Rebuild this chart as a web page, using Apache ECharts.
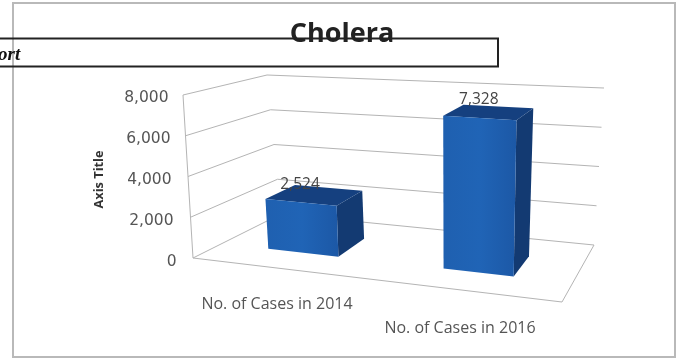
<!DOCTYPE html>
<html>
<head>
<meta charset="utf-8">
<style>html,body{margin:0;padding:0;background:#fff}#chart{width:683px;height:360px}</style>
<script src="https://cdn.jsdelivr.net/npm/echarts@6/dist/echarts.min.js"></script>
</head>
<body>
<div id="chart"></div>
<script>
const categories = ['No. of Cases in 2014', 'No. of Cases in 2016'];
const cases = [2524, 7328];
const yTicks = [0, 2000, 4000, 6000, 8000];
const chartTitle = 'Cholera';
const yAxisTitle = 'Axis Title';
const captionTail = 'ort';

// Corners of the perspective box: floor and ceiling at front/back, left/right.
const box = {
  floor: { fl: [193, 258], fr: [562, 302], bl: [281, 214], br: [594, 245] },
  top:   { fl: [183, 95],  fr: [566, 120], bl: [267, 75],  br: [604, 88] }
};
const barDepth = [0.33, 0.7];
const barHalfWidth = 0.1;
const floorShift = -0.018;

function mix(a, b, t) { return [a[0] + (b[0] - a[0]) * t, a[1] + (b[1] - a[1]) * t]; }
// u: across the floor, d: front to back, t: share of the value range
function project(u, d, t) {
  const q = s => mix(mix(s.fl, s.fr, u), mix(s.bl, s.br, u), d);
  return mix(q(box.floor), q(box.top), t);
}
function shareOf(api, cs, v) {
  return (cs.y + cs.height - api.coord([0, v])[1]) / cs.height;
}
const gridStroke = { stroke: '#b4b4b4', lineWidth: 1, fill: null };

function renderWalls(params, api) {
  const cs = params.coordSys;
  const t = shareOf(api, cs, api.value(1));
  const lines = [
    [project(0, 0, t), project(0, 1, t), project(1, 1, t)]
  ];
  if (params.dataIndex === 0) {
    lines.push([project(0, 0, 0), project(1, 0, 0), project(1, 1, 0)]);
    lines.push([project(0, 0, 0), project(0, 0, 1)]);
  }
  return {
    type: 'group',
    children: lines.map(points => ({ type: 'polyline', shape: { points }, style: gridStroke }))
  };
}

function renderBar(params, api) {
  const cs = params.coordSys;
  const i = api.value(0);
  const value = api.value(1);
  const c = (api.coord([i, value])[0] - cs.x) / cs.width + floorShift;
  const t = shareOf(api, cs, value);
  const u0 = c - barHalfWidth, u1 = c + barHalfWidth;
  const [d0, d1] = barDepth;
  const label = project(c, d0, t);
  return {
    type: 'group',
    children: [
      { type: 'polygon', shape: { points: [project(u1, d0, 0), project(u1, d1, 0), project(u1, d1, t), project(u1, d0, t)] },
        style: { fill: '#133a72' } },
      { type: 'polygon', shape: { points: [project(u0, d0, t), project(u1, d0, t), project(u1, d1, t), project(u0, d1, t)] },
        style: { fill: '#15407f' } },
      { type: 'polygon', shape: { points: [project(u0, d0, 0), project(u1, d0, 0), project(u1, d0, t), project(u0, d0, t)] },
        style: { fill: new echarts.graphic.LinearGradient(0, 0, 1, 0, [
          { offset: 0, color: '#1f60b0' }, { offset: 0.5, color: '#2064b6' }, { offset: 1, color: '#1c58a6' }
        ]) } },
      { type: 'text', x: label[0] - 1, y: label[1] - 18,
        style: { text: value.toLocaleString('en-US'), fill: '#444', fontFamily: 'Open Sans', fontSize: 15.5, align: 'center', verticalAlign: 'middle' } }
    ]
  };
}

// The value labels lean with the left wall, so each tick gets its own right padding.
const tickPad = { 0: 0, 2000: 3, 4000: 5, 6000: 6, 8000: 8 };
const tickRich = {};
yTicks.forEach(v => {
  tickRich['t' + v] = { fontFamily: 'DejaVu Sans', fontSize: 15.5, color: '#555', padding: [0, tickPad[v], 0, 0] };
});
const categoryText = { fontFamily: 'Open Sans', fontSize: 16, color: '#555' };

const chart = echarts.init(document.getElementById('chart'));
chart.setOption({
  animation: false,
  backgroundColor: '#fff',
  title: {
    text: chartTitle, left: 337, top: 16, textAlign: 'center',
    textStyle: { fontFamily: 'Open Sans', fontWeight: 'bold', fontSize: 27, color: '#222' }
  },
  grid: { left: 185.5, top: 97.5, width: 366, height: 164 },
  xAxis: {
    type: 'category', data: categories,
    axisLine: { show: false }, axisTick: { show: false },
    axisLabel: {
      interval: 0, margin: 35,
      formatter: (v, i) => `{${i === 0 ? 'near' : 'far'}|${v}}`,
      rich: {
        near: categoryText,
        far: { ...categoryText, padding: [24, 0, 0, 0] }
      }
    }
  },
  yAxis: {
    type: 'value', min: 0, max: 8000, interval: 2000,
    name: yAxisTitle, nameLocation: 'middle', nameRotate: 90, nameGap: 80,
    nameTextStyle: { fontFamily: 'Open Sans', fontWeight: 'bold', fontSize: 12.8, color: '#333' },
    axisLine: { show: false }, axisTick: { show: false }, splitLine: { show: false },
    axisLabel: {
      margin: 9,
      formatter: v => `{t${v}|${v.toLocaleString('en-US')}}`,
      rich: tickRich
    }
  },
  series: [
    { type: 'custom', silent: true, clip: false, z: 1, renderItem: renderWalls,
      data: yTicks.map(v => [0, v]) },
    { type: 'custom', silent: true, clip: false, z: 2, renderItem: renderBar,
      data: cases.map((v, i) => [i, v]) }
  ],
  graphic: [
    { type: 'rect', z: 0, shape: { x: 13, y: 3, width: 662, height: 354 },
      style: { fill: null, stroke: '#b9b9b9', lineWidth: 2 } },
    { type: 'rect', z: 10, shape: { x: -3, y: 38.5, width: 501, height: 28 },
      style: { fill: null, stroke: '#222', lineWidth: 2 } },
    { type: 'text', z: 10, x: -2, y: 46,
      style: { text: captionTail, fontFamily: 'Liberation Serif', fontStyle: 'italic', fontWeight: 'bold', fontSize: 19, fill: '#111' } }
  ]
});
</script>
</body>
</html>
